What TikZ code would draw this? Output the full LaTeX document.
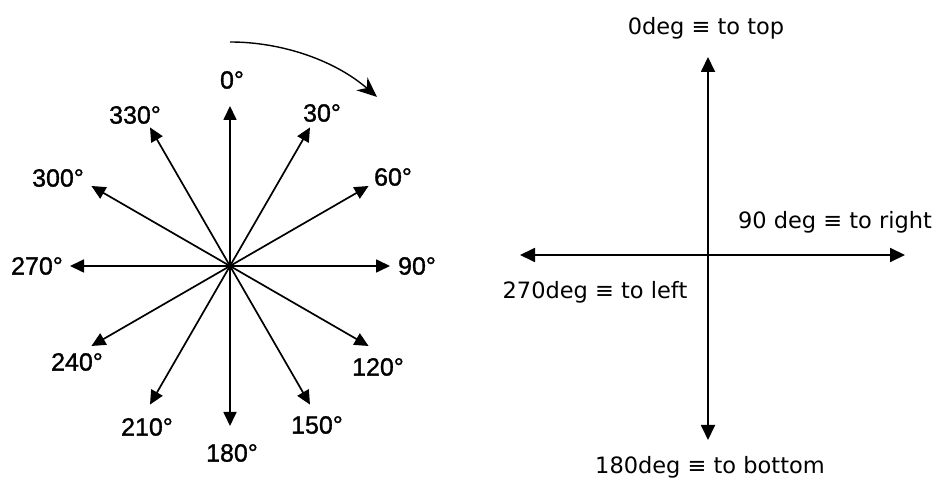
\documentclass[tikz,border=0pt]{standalone}
\usepackage{fontspec}
\setmainfont{Liberation Sans}
\newfontfamily\lfont[FakeBold=1.2]{Liberation Sans}
\newfontfamily\rfont{DejaVu Sans}
\usetikzlibrary{arrows.meta,calc}
\begin{document}
\begin{tikzpicture}[x=1pt,y=1pt,
  deglabel/.style={inner sep=0pt,anchor=center,font=\lfont\fontsize{25}{28}\selectfont},
  rlabel/.style={inner sep=0pt,anchor=center,font=\rfont\fontsize{22.5}{26}\selectfont},
  ray/.style={line width=1.7pt,-{Triangle[length=14pt,width=13pt]}},
  axis/.style={line width=1.8pt,-{Triangle[length=15pt,width=14pt]}},
  turn/.style={line width=1.4pt,-{Stealth[length=20pt,width=17pt]}}]
\useasboundingbox (0,0) rectangle (937,479);
% left compass
\coordinate (c) at (230,213);
\foreach \a in {0,30,...,330}{
  \coordinate (t\a) at ($(c)+({90-\a}:160)$);
}
\foreach \a in {0,30,...,330}{
  \draw[ray] (c) -- (t\a);
}
\node[deglabel] (l0) at (232,399) {0°};
\node[deglabel] (l30) at (322,366) {30°};
\node[deglabel] (l60) at (393,302) {60°};
\node[deglabel] (l90) at (417,213) {90°};
\node[deglabel] (l120) at (378,112) {120°};
\node[deglabel] (l150) at (317,54) {150°};
\node[deglabel] (l180) at (232,26) {180°};
\node[deglabel] (l210) at (147,52) {210°};
\node[deglabel] (l240) at (77,117) {240°};
\node[deglabel] (l270) at (37,213) {270°};
\node[deglabel] (l300) at (58,301) {300°};
\node[deglabel] (l330) at (135,364) {330°};
\coordinate (arcstart) at ($(c)+(90:224)$);
\draw[turn] (arcstart) arc[start angle=90,end angle=49,radius=224];
% right axes
\coordinate (o) at (708,224);
\coordinate (up) at (708,422);
\coordinate (down) at (708,39);
\coordinate (left) at (520,224);
\coordinate (right) at (905,224);
\draw[axis] (o) -- (up);
\draw[axis] (o) -- (down);
\draw[axis] (o) -- (left);
\draw[axis] (o) -- (right);
\node[rlabel] (rtop) at (706,451) {0deg ≡ to top};
\node[rlabel] (rright) at (835,257) {90 deg ≡ to right};
\node[rlabel] (rleft) at (595,187) {270deg ≡ to left};
\node[rlabel] (rbottom) at (710,12) {180deg ≡ to bottom};
\end{tikzpicture}
\end{document}
